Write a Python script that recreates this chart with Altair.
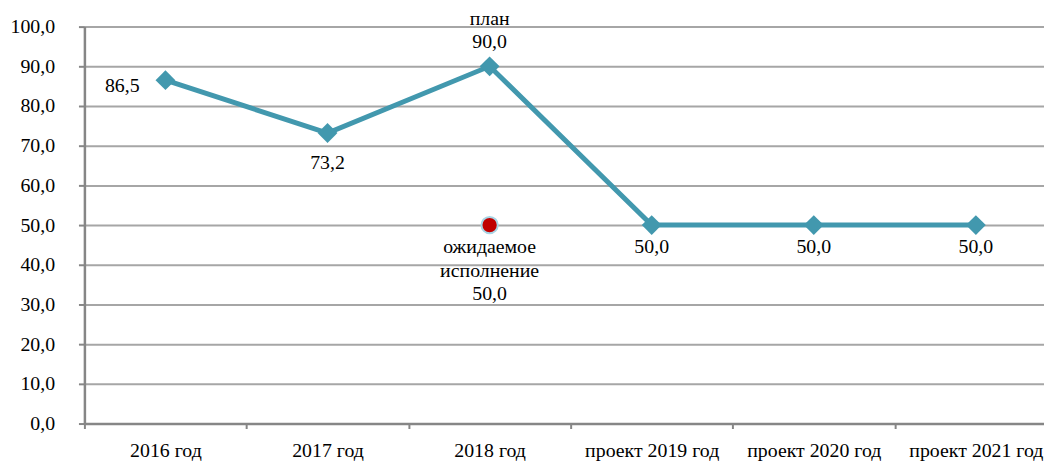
import altair as alt
import pandas as pd

categories = ["2016 год", "2017 год", "2018 год", "проект 2019 год", "проект 2020 год", "проект 2021 год"]
values = [86.5, 73.2, 90.0, 50.0, 50.0, 50.0]
expected_category = ["2018 год"]
expected_value = [50.0]
expected_caption = ["ожидаемое|исполнение"]
plan_caption = "план"
y_ticks = [0, 10, 20, 30, 40, 50, 60, 70, 80, 90, 100]

FONT = "Times New Roman"
LINE_COLOR = "#4298AE"
AXIS_COLOR = "#868686"
GRID_COLOR = "#A6A6A6"

main = pd.DataFrame({"cat": categories, "val": values})
main["lbl"] = [f"{v:.1f}".replace(".", ",") for v in values]

exp = pd.DataFrame({"cat": expected_category, "val": expected_value})
exp["lbl"] = [c + "|" + f"{v:.1f}".replace(".", ",") for c, v in zip(expected_caption, expected_value)]

x_enc = alt.X("cat:N", sort=categories, title=None,
              scale=alt.Scale(range=[0, 980], paddingInner=0, paddingOuter=0),
              axis=alt.Axis(labelAngle=0, tickBand="extent", domainColor=AXIS_COLOR,
                            domainWidth=2.5, tickColor=AXIS_COLOR, tickWidth=2,
                            tickSize=5, labelFont=FONT, labelFontSize=20,
                            labelColor="#000000", labelPadding=28, grid=False,
                            labelLimit=300, labelOverlap=False, labelBaseline="alphabetic"))
y_enc = alt.Y("val:Q", title=None,
              scale=alt.Scale(domain=[0, 100], nice=False),
              axis=alt.Axis(values=y_ticks, labelExpr="replace(format(datum.value, '.1f'), '.', ',')",
                            domainColor=AXIS_COLOR, domainWidth=2.5, tickColor=AXIS_COLOR,
                            tickWidth=2, tickSize=6, gridColor=GRID_COLOR, gridWidth=2,
                            labelFont=FONT, labelFontSize=20, labelColor="#000000",
                            labelPadding=24, labelOverlap=False, labelFlush=False))

base = alt.Chart(main).encode(x=x_enc, y=y_enc)

line = base.mark_line(color=LINE_COLOR, strokeWidth=5)
pts = base.mark_point(shape="diamond", filled=True, size=400, color=LINE_COLOR, opacity=1)

txt_props = dict(font=FONT, fontSize=20, color="#000000")

left_lbl = base.transform_filter(alt.datum.cat == categories[0]).mark_text(
    align="right", baseline="alphabetic", dx=-26, dy=12, **txt_props).encode(text="lbl:N")

above_lbl = base.transform_filter(alt.datum.cat == categories[2]).transform_calculate(
    t="['" + plan_caption + "', datum.lbl]").mark_text(
    align="center", baseline="alphabetic", dy=-42, lineHeight=24, **txt_props).encode(text="t:N")

below_lbl_2017 = base.transform_filter(alt.datum.cat == categories[1]).mark_text(
    align="center", baseline="alphabetic", dy=36, **txt_props).encode(text="lbl:N")

below_lbl = base.transform_filter(
    (alt.datum.cat != categories[0]) & (alt.datum.cat != categories[1])
    & (alt.datum.cat != categories[2])).mark_text(
    align="center", baseline="alphabetic", dy=28, **txt_props).encode(text="lbl:N")

exp_base = alt.Chart(exp).encode(x=x_enc, y=y_enc)
exp_pt = exp_base.mark_point(shape="circle", filled=True, size=270, color="#C00000",
                             stroke="#A8D4E4", strokeWidth=2, opacity=1)
exp_lbl = exp_base.transform_calculate(t="split(datum.lbl, '|')").mark_text(
    align="center", baseline="alphabetic", dy=28, lineHeight=24, **txt_props).encode(text="t:N")

chart = alt.layer(line, pts, left_lbl, above_lbl, below_lbl_2017, below_lbl, exp_pt, exp_lbl).properties(
    width=967, height=400,
    autosize=alt.AutoSizeParams(type="none"),
    padding={"left": 77, "top": 17, "right": 0, "bottom": 38},
).configure(font=FONT).configure_view(stroke=None).configure_text(font=FONT, fontSize=20)

chart.save("out.html", embed_options={"renderer": "svg", "actions": False})
